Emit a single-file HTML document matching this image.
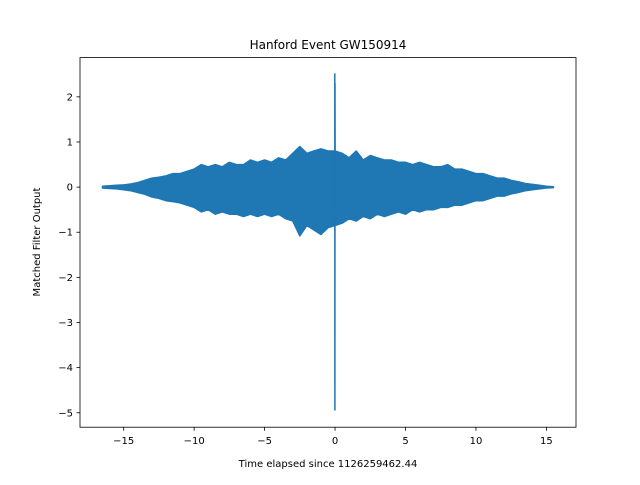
<!DOCTYPE html>
<html><head><meta charset="utf-8"><style>
body{margin:0;background:#fff;}
svg text{font-family:"DejaVu Sans","Liberation Sans",sans-serif;}
</style></head><body>
<svg id="chart" width="640" height="480" xmlns="http://www.w3.org/2000/svg">
<rect width="640" height="480" fill="#fff"/>
<g id="plot"></g>
<rect x="80" y="57.6" width="496" height="369.6" fill="none" stroke="#000" stroke-width="0.8"/>
<g id="ticks" font-size="10" fill="#000"></g>
<text x="328" y="49" text-anchor="middle" font-size="12">Hanford Event GW150914</text>
<text x="328" y="467" text-anchor="middle" font-size="10">Time elapsed since 1126259462.44</text>
<text transform="translate(40,242) rotate(-90)" text-anchor="middle" font-size="10">Matched Filter Output</text>
</svg>
<script>
const times=[-16.5,-16,-15.5,-15,-14.5,-14,-13.5,-13,-12.5,-12,-11.5,-11,-10.5,-10,-9.5,-9,-8.5,-8,-7.5,-7,-6.5,-6,-5.5,-5,-4.5,-4,-3.5,-3,-2.5,-2,-1.5,-1,-0.5,0,0.5,1,1.5,2,2.5,3,3.5,4,4.5,5,5.5,6,6.5,7,7.5,8,8.5,9,9.5,10,10.5,11,11.5,12,12.5,13,13.5,14,14.5,15,15.5];
const upper=[0.02,0.03,0.04,0.05,0.07,0.1,0.15,0.2,0.22,0.25,0.3,0.3,0.35,0.4,0.5,0.45,0.5,0.45,0.55,0.5,0.5,0.6,0.55,0.6,0.55,0.65,0.6,0.75,0.9,0.75,0.8,0.85,0.8,0.8,0.75,0.65,0.8,0.6,0.7,0.65,0.6,0.6,0.55,0.55,0.5,0.55,0.5,0.45,0.45,0.5,0.4,0.4,0.35,0.3,0.3,0.25,0.2,0.2,0.15,0.12,0.08,0.06,0.04,0.02,0.01];
const lower=[-0.02,-0.03,-0.04,-0.06,-0.08,-0.12,-0.16,-0.22,-0.25,-0.3,-0.32,-0.35,-0.4,-0.45,-0.55,-0.5,-0.6,-0.55,-0.6,-0.6,-0.65,-0.6,-0.65,-0.6,-0.65,-0.6,-0.7,-0.75,-1.08,-0.85,-0.95,-1.05,-0.9,-0.85,-0.8,-0.7,-0.75,-0.65,-0.7,-0.6,-0.65,-0.6,-0.55,-0.6,-0.5,-0.55,-0.5,-0.5,-0.45,-0.45,-0.4,-0.4,-0.35,-0.3,-0.3,-0.25,-0.2,-0.2,-0.15,-0.12,-0.08,-0.06,-0.04,-0.02,-0.01];
const spikeTimes=[-0.02,-0.01,0.0,0.01];
const spikeValues=[2.52,-4.95,2.3,0];
const xTicks=[-15,-10,-5,0,5,10,15];
const xTickLabels=["\u221215","\u221210","\u22125","0","5","10","15"];
const yTicks=[2,1,0,-1,-2,-3,-4,-5];
const yTickLabels=["2","1","0","\u22121","\u22122","\u22123","\u22124","\u22125"];
const xmin=-18.1,xmax=17.1,ymin=-5.32,ymax=2.87;
const L=80,R=576,T=57.6,B=427.2;
function xs(v){return L+(v-xmin)/(xmax-xmin)*(R-L);}
function ys(v){return B-(v-ymin)/(ymax-ymin)*(B-T);}
const NS="http://www.w3.org/2000/svg";
const plot=document.getElementById('plot');
let pts=[];
for(let i=0;i<times.length;i++)pts.push(xs(times[i]).toFixed(1)+','+ys(upper[i]).toFixed(1));
for(let i=times.length-1;i>=0;i--)pts.push(xs(times[i]).toFixed(1)+','+ys(lower[i]).toFixed(1));
const poly=document.createElementNS(NS,'polygon');
poly.setAttribute('points',pts.join(' '));
poly.setAttribute('fill','#1f77b4');poly.setAttribute('stroke','#1f77b4');poly.setAttribute('stroke-width','1.5');poly.setAttribute('stroke-linejoin','round');


plot.appendChild(poly);
const sp=document.createElementNS(NS,'polyline');
sp.setAttribute('points',spikeTimes.map((t,i)=>xs(t).toFixed(1)+','+ys(spikeValues[i]).toFixed(1)).join(' '));
sp.setAttribute('fill','none');sp.setAttribute('stroke','#1f77b4');sp.setAttribute('stroke-width','1.5');


plot.appendChild(sp);
const tg=document.getElementById('ticks');
xTicks.forEach((v,i)=>{
 const x=xs(v);
 const l=document.createElementNS(NS,'line');
 l.setAttribute('x1',x);l.setAttribute('x2',x);l.setAttribute('y1',B);l.setAttribute('y2',B+3.5);l.setAttribute('stroke','#000');l.setAttribute('stroke-width','0.8');
 
 
 tg.appendChild(l);
 const t=document.createElementNS(NS,'text');
 t.setAttribute('x',x);t.setAttribute('y',B+17);t.setAttribute('text-anchor','middle');t.textContent=xTickLabels[i];
 
 
 tg.appendChild(t);
});
yTicks.forEach((v,i)=>{
 const y=ys(v);
 const l=document.createElementNS(NS,'line');
 l.setAttribute('x1',L-3.5);l.setAttribute('x2',L);l.setAttribute('y1',y);l.setAttribute('y2',y);l.setAttribute('stroke','#000');l.setAttribute('stroke-width','0.8');
 
 
 tg.appendChild(l);
 const t=document.createElementNS(NS,'text');
 t.setAttribute('x',L-7);t.setAttribute('y',y+3.5);t.setAttribute('text-anchor','end');t.textContent=yTickLabels[i];
 
 
 tg.appendChild(t);
});
</script>
</body></html>
